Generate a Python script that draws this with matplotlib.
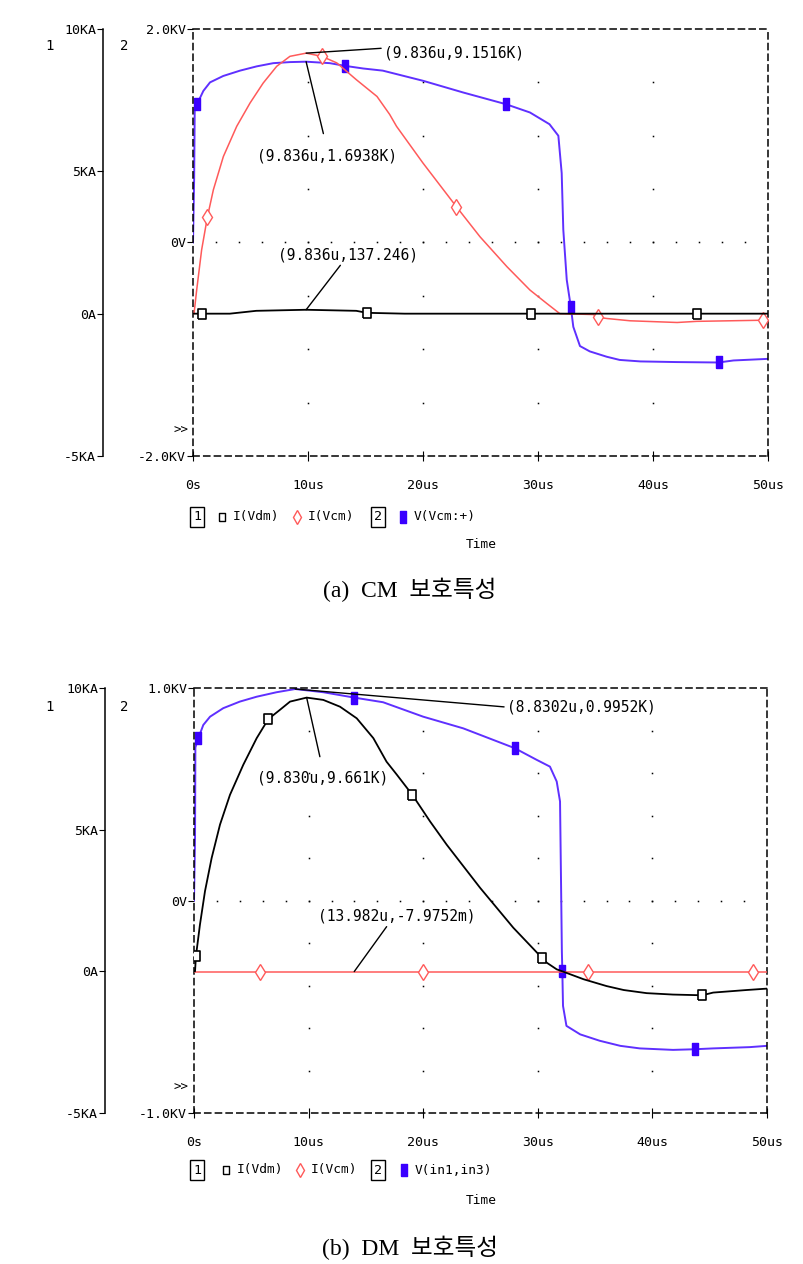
import numpy as np
import matplotlib.pyplot as plt

# ---------------- (a) CM protection data ----------------
a_t_vdm = [0, 0.76, 3.2, 5.5, 9.836, 14.2, 15.1, 18.4, 29.4, 43.8, 50]
a_i_vdm = [0, 0, 0, 0.1, 0.137, 0.1, 0.03, 0, 0, 0, 0]
a_mk_vdm = [0.76, 15.1, 29.4, 43.8]

a_t_vcm = [0, 0.09, 0.32, 0.75, 1.25, 1.77, 2.64, 3.8, 4.96, 6.1,
           7.28, 8.43, 9.836, 11.2, 12.5, 14.2, 16.0, 17.1, 17.7, 20.0,
           22.9, 24.96, 27.3, 29.3, 30.76, 31.9, 34.8, 35.25, 36.0, 38.0,
           42.1, 43.8, 49.6, 50]
a_i_vcm = [0, 0, 0.83, 2.24, 3.39, 4.35, 5.52, 6.58, 7.4, 8.1,
           8.69, 9.04, 9.1516, 9.04, 8.81, 8.22, 7.63, 7.0, 6.58, 5.29,
           3.76, 2.7, 1.65, 0.83, 0.36, 0.0, -0.03, -0.13, -0.17, -0.25,
           -0.31, -0.27, -0.23, -0.23]
a_mk_vcm = [1.25, 11.2, 22.9, 35.25, 49.6]

a_t_v = [0, 0.1, 0.15, 0.37, 0.9, 1.48, 2.63, 4.09, 5.54, 6.98,
         8.43, 9.836, 11.9, 13.2, 14.8, 16.5, 20.0, 23.5, 27.2, 29.3,
         31.0, 31.77, 32.06, 32.2, 32.5, 32.85, 33.07, 33.65, 34.5, 35.97,
         37.1, 38.9, 42.0, 45.7, 47.0, 50]
a_v_v = [0, 0.6, 1.25, 1.30, 1.42, 1.50, 1.56, 1.61, 1.65, 1.68,
         1.69, 1.6938, 1.68, 1.655, 1.63, 1.61, 1.515, 1.405, 1.296, 1.218,
         1.108, 1.0, 0.65, 0.12, -0.35, -0.60, -0.79, -0.97, -1.02, -1.07,
         -1.10, -1.114, -1.12, -1.124, -1.105, -1.09]
a_mk_v = [0.37, 13.2, 27.2, 32.85, 45.7]

# ---------------- (b) DM protection data ----------------
b_t_vdm = [0, 0.09, 0.17, 0.52, 0.96, 1.54, 2.27, 3.14, 4.3, 5.47,
           6.48, 7.5, 8.38, 9.83, 11.28, 12.74, 14.2, 15.65, 16.8, 17.7,
           19.05, 20.6, 22.05, 24.96, 27.86, 30.4, 30.8, 31.65, 32.14, 34.0,
           36.0, 37.5, 39.5, 41.8, 44.35, 45.3, 48.2, 50]
b_i_vdm = [0, 0, 0.54, 1.65, 2.83, 4.0, 5.18, 6.23, 7.29, 8.23,
           8.9, 9.23, 9.52, 9.661, 9.58, 9.34, 8.93, 8.23, 7.4, 6.94,
           6.23, 5.29, 4.47, 2.95, 1.54, 0.46, 0.3, 0.07, 0, -0.28,
           -0.52, -0.66, -0.77, -0.82, -0.845, -0.75, -0.66, -0.61]
b_mk_vdm = [0.17, 6.48, 19.05, 30.4, 44.35]

b_t_vcm = [0, 5.76, 13.982, 20.0, 34.4, 48.8, 50]
b_i_vcm = [-0.008, -0.008, -0.008, -0.008, -0.008, -0.008, -0.008]
b_mk_vcm = [5.76, 20.0, 34.4, 48.8]

b_t_v = [0, 0.09, 0.12, 0.38, 0.81, 1.4, 2.55, 4.0, 5.47, 7.2,
         8.83, 11.3, 13.96, 16.5, 20.0, 23.5, 27.98, 29.9, 31.06, 31.65,
         31.94, 32.03, 32.1, 32.14, 32.2, 32.5, 33.7, 35.4, 37.2, 38.9,
         41.8, 43.7, 45.3, 48.5, 50]
b_v_v = [0, 0.3, 0.72, 0.764, 0.826, 0.865, 0.905, 0.936, 0.959, 0.98,
         0.9952, 0.98, 0.955, 0.933, 0.865, 0.81, 0.717, 0.662, 0.63, 0.56,
         0.466, 0.075, -0.24, -0.33, -0.496, -0.59, -0.63, -0.66, -0.684, -0.696,
         -0.703, -0.70, -0.696, -0.69, -0.684]
b_mk_v = [0.38, 13.96, 27.98, 32.14, 43.7]

t_ticks = [0, 10, 20, 30, 40, 50]
t_labels = ['0s', '10us', '20us', '30us', '40us', '50us']
i_ticks = [10, 5, 0, -5]
i_labels = ['10KA', '5KA', '0A', '-5KA']

BLUE = '#5f30ff'
BLUE_M = '#3a00ff'
RED = '#ff5a5a'
MONO = 'DejaVu Sans Mono'
W, H = 804, 1264

# marker shapes (tall rectangles like PSpice)
tall_rect = [(-0.55, -1), (0.55, -1), (0.55, 1), (-0.55, 1), (-0.55, -1)]
sq_box = [(-0.8, -1), (0.8, -1), (0.8, 1), (-0.8, 1), (-0.8, -1)]


def idx(t, marks):
    t = np.asarray(t)
    return [int(np.argmin(np.abs(t - m))) for m in marks]


def rect(l, t, r, b):
    return [l / W, 1 - b / H, (r - l) / W, (b - t) / H]


fig = plt.figure(figsize=(W / 100, H / 100), dpi=100)


def draw_panel(box, spine_off, vmax, v_ticks, v_labels, v_step, curves, notes,
               legend_name, caption, leg_y, time_y, cap_y, lab_y, leg_x):
    axV = fig.add_axes(rect(*box))
    axV.set_xlim(0, 50)
    axV.set_ylim(-vmax, vmax)
    for s in axV.spines.values():
        s.set_linestyle((0, (4, 3)))
        s.set_linewidth(1.1)
    axV.set_xticks(t_ticks, t_labels, family=MONO, fontsize=9.5)
    axV.set_yticks(v_ticks, v_labels, family=MONO, fontsize=9.5)
    axV.tick_params(axis='x', direction='inout', length=7, pad=13)
    axV.tick_params(axis='y', direction='out', length=4, pad=1)

    axI = axV.twinx()
    axI.set_ylim(-5, 10)
    axI.yaxis.tick_left()
    for k in ['right', 'top', 'bottom']:
        axI.spines[k].set_visible(False)
    axI.spines['left'].set_position(('axes', spine_off))
    axI.spines['left'].set_linewidth(1.1)
    axI.set_yticks(i_ticks, i_labels, family=MONO, fontsize=9.5)
    axI.tick_params(axis='y', direction='out', length=4, pad=1)

    # dotted grid
    gt, gv = np.meshgrid([10, 20, 30, 40], np.arange(-vmax + v_step, vmax, v_step))
    axV.plot(gt.ravel(), gv.ravel(), ls='none', marker='s', ms=1.1, mew=0, color='k')
    dt = np.arange(2, 50, 2)
    axV.plot(dt, np.zeros_like(dt), ls='none', marker='s', ms=1.1, mew=0, color='k')

    (tv, iv, mv), (tc, ic, mc), (tb, vb, mb) = curves
    axI.plot(tc, ic, color=RED, lw=1.1, marker='d', ms=8, mfc='white', mec=RED,
             mew=1.0, markevery=idx(tc, mc))
    axI.plot(tv, iv, color='black', lw=1.3, marker=sq_box, ms=7, mfc='white',
             mec='black', mew=1.2, markevery=idx(tv, mv))
    axV.plot(tb, vb, color=BLUE, lw=1.4, marker=tall_rect, ms=9, mfc=BLUE_M,
             mec=BLUE_M, markevery=idx(tb, mb))

    for ax_name, xy, xyt, rel, shrink, txt, ha, va in notes:
        ax = axV if ax_name == 'v' else axI
        ax.annotate(txt, xy=xy, xytext=xyt, ha=ha, va=va, family=MONO, fontsize=10.5,
                    arrowprops=dict(arrowstyle='-', color='black', lw=1.0,
                                    relpos=rel, shrinkA=shrink, shrinkB=0))

    # labels outside plot
    x0, y0 = box[0], box[3]
    pw, ph = box[2] - box[0], box[3] - box[1]
    fx = lambda x: (x - x0) / pw
    fy = lambda y: (y0 - y) / ph
    axV.text(fx(181), fy(y0 - 26), '>>', transform=axV.transAxes, ha='center',
             va='center', family=MONO, fontsize=9)
    axV.text(fx(50), fy(lab_y), '1', transform=axV.transAxes, ha='center',
             va='center', family=MONO, fontsize=10)
    axV.text(fx(124), fy(lab_y), '2', transform=axV.transAxes, ha='center',
             va='center', family=MONO, fontsize=10)

    ly = fy(leg_y)
    bx1, s1, t1, s2, t2, bx2, s3, t3 = leg_x
    for bx, lab in [(bx1, '1'), (bx2, '2')]:
        axV.text(fx(bx), ly, lab, transform=axV.transAxes, ha='center', va='center',
                 family=MONO, fontsize=9.5,
                 bbox=dict(boxstyle='square,pad=0.25', fc='white', ec='black', lw=1))
    axV.plot([fx(s1)], [ly], transform=axV.transAxes, clip_on=False, ls='none',
             marker=sq_box, ms=6, mfc='white', mec='black', mew=1)
    axV.plot([fx(s2)], [ly], transform=axV.transAxes, clip_on=False, ls='none',
             marker='d', ms=7, mfc='white', mec=RED, mew=1)
    axV.plot([fx(s3)], [ly], transform=axV.transAxes, clip_on=False, ls='none',
             marker=tall_rect, ms=8, mfc=BLUE_M, mec=BLUE_M)
    for x, lab in [(t1, 'I(Vdm)'), (t2, 'I(Vcm)'), (t3, legend_name)]:
        axV.text(fx(x), ly, lab, transform=axV.transAxes, ha='left', va='center',
                 family=MONO, fontsize=9.3)
    axV.text(fx(481), fy(time_y), 'Time', transform=axV.transAxes, ha='center',
             va='center', family=MONO, fontsize=9.3)

    fig.text(410 / W, 1 - cap_y / H, caption, ha='center', va='center', fontsize=17,
             family=['Liberation Serif', 'Noto Sans CJK KR'])


draw_panel((193, 29, 768, 456), -0.1565, 2.0, [2, 0, -2], ['2.0KV', '0V', '-2.0KV'], 0.5,
           [(a_t_vdm, a_i_vdm, a_mk_vdm), (a_t_vcm, a_i_vcm, a_mk_vcm),
            (a_t_v, a_v_v, a_mk_v)],
           [('i', (9.836, 9.1516), (16.6, 9.17), (0, 0.8), 0, '(9.836u,9.1516K)',
             'left', 'center'),
            ('v', (9.836, 1.6938), (11.65, 0.81), (0.5, 1), 9, '(9.836u,1.6938K)',
             'center', 'center'),
            ('i', (9.836, 0.137), (7.4, 2.06), (0.46, 0), 0, '(9.836u,137.246)',
             'left', 'center')],
           'V(Vcm:+)', '(a)  CM  보호특성', 517, 545, 590, 46,
           (197, 222, 233, 297, 308, 378, 403, 414))

draw_panel((194, 688, 767, 1113), -0.1553, 1.0, [1, 0, -1], ['1.0KV', '0V', '-1.0KV'], 0.2,
           [(b_t_vdm, b_i_vdm, b_mk_vdm), (b_t_vcm, b_i_vcm, b_mk_vcm),
            (b_t_v, b_v_v, b_mk_v)],
           [('v', (8.8302, 0.9952), (27.3, 0.91), (0, 0.5), 0, '(8.8302u,0.9952K)',
             'left', 'center'),
            ('i', (9.83, 9.661), (11.25, 6.83), (0.5, 1), 8, '(9.830u,9.661K)',
             'center', 'center'),
            ('i', (13.982, -0.0079752), (10.8, 1.94), (0.45, 0), 0,
             '(13.982u,-7.9752m)', 'left', 'center')],
           'V(in1,in3)', '(b)  DM  보호특성', 1170, 1200, 1248, 707,
           (197, 226, 237, 300, 311, 378, 404, 415))

fig.savefig('out.png', dpi=100)
